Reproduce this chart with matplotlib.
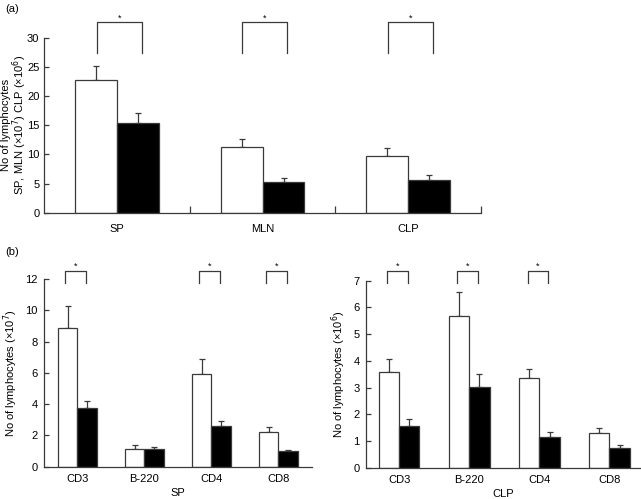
import matplotlib
matplotlib.use("Agg")
import matplotlib.pyplot as plt
import numpy as np

plt.rcParams['font.family'] = ['Liberation Sans', 'DejaVu Sans']
plt.rcParams['font.size'] = 8

# Panel (a)
a_cats = ["SP", "MLN", "CLP"]
a_white = [22.7, 11.2, 9.7]
a_white_err = [2.5, 1.4, 1.4]
a_black = [15.4, 5.2, 5.7]
a_black_err = [1.7, 0.7, 0.8]
a_sig = [True, True, True]

# Panel (b) left: SP
b_cats = ["CD3", "B-220", "CD4", "CD8"]
sp_white = [8.88, 1.15, 5.95, 2.22]
sp_white_err = [1.38, 0.24, 0.92, 0.34]
sp_black = [3.75, 1.14, 2.63, 1.01]
sp_black_err = [0.48, 0.15, 0.30, 0.08]
sp_sig = [True, False, True, True]

# Panel (b) right: CLP
clp_white = [3.59, 5.67, 3.37, 1.29]
clp_white_err = [0.47, 0.90, 0.33, 0.18]
clp_black = [1.57, 3.01, 1.16, 0.75]
clp_black_err = [0.24, 0.49, 0.19, 0.09]
clp_sig = [True, True, True, False]

EC = "#3a3a3a"
W = 0.288

fig = plt.figure(figsize=(6.41, 4.99), dpi=100)


def draw(ax, cats, white, werr, black, berr, sig, ylim, yticks, xlim,
         ylabel, br_lo, br_hi, br_dx=(-0.18, 0.12), xpad=5, ypad=4.5):
    x = np.arange(len(cats))
    ax.bar(x - W / 2, white, W, color="white", edgecolor=EC, linewidth=0.9, zorder=2)
    ax.bar(x + W / 2, black, W, color="black", edgecolor=EC, linewidth=0.9, zorder=2)
    ax.errorbar(x - W / 2, white, yerr=[np.zeros(len(x)), werr], fmt="none",
                ecolor=EC, elinewidth=0.9, capsize=2.5, capthick=0.9, zorder=1)
    ax.errorbar(x + W / 2, black, yerr=[np.zeros(len(x)), berr], fmt="none",
                ecolor=EC, elinewidth=0.9, capsize=2.5, capthick=0.9, zorder=1)
    for xi, s in zip(x, sig):
        if s:
            x0 = xi + br_dx[0]
            x1 = xi + br_dx[1]
            ax.plot([x0, x0, x1, x1], [br_lo, br_hi, br_hi, br_lo], color=EC,
                    linewidth=0.9, clip_on=False)
            ax.text((x0 + x1) / 2, br_hi, "*", ha="center", va="bottom", fontsize=6.5)
    ax.set_xlim(*xlim)
    ax.set_ylim(*ylim)
    ax.set_yticks(yticks)
    for s in ["top", "right"]:
        ax.spines[s].set_visible(False)
    for s in ["left", "bottom"]:
        ax.spines[s].set_color(EC)
        ax.spines[s].set_linewidth(0.9)
    ax.tick_params(axis="y", direction="in", length=3.5, width=0.9, color=EC, pad=ypad,
                   labelsize=8)
    ax.set_xticks(x)
    ax.set_xticklabels(cats, fontsize=8)
    ax.tick_params(axis="x", length=0, pad=xpad)
    ax.set_ylabel(ylabel, fontsize=8, labelpad=4)


# (a)
axa = fig.add_axes([0.0691, 0.5735, 0.681, 0.351])
draw(axa, a_cats, a_white, a_white_err, a_black, a_black_err, a_sig,
     (0, 30), [0, 5, 10, 15, 20, 25, 30], (-0.5, 2.5),
     "No of lymphocytes\nSP, MLN (\u00d710$^7$) CLP (\u00d710$^6$)",
     27.3, 32.6, br_dx=(-0.14, 0.17), xpad=8, ypad=3.5)
axa.set_xticks([0.5, 1.5, 2.5], minor=True)
axa.tick_params(axis="x", which="minor", direction="in", length=5, width=0.9, color=EC)
axa.yaxis.label.set_linespacing(0.95)
axa.yaxis.set_label_coords(-0.036, 0.5)

# (b) left
axl = fig.add_axes([0.0686, 0.0647, 0.4181, 0.3762])
draw(axl, b_cats, sp_white, sp_white_err, sp_black, sp_black_err, sp_sig,
     (0, 12), [0, 2, 4, 6, 8, 10, 12], (-0.5, 3.5),
     "No of lymphocytes (\u00d710$^7$)", 11.75, 12.53)
axl.set_xlabel("SP", fontsize=8, labelpad=3)

# (b) right
axr = fig.add_axes([0.5705, 0.0627, 0.4295, 0.3748])
draw(axr, b_cats, clp_white, clp_white_err, clp_black, clp_black_err, clp_sig,
     (0, 7), [0, 1, 2, 3, 4, 5, 6, 7], (-0.48, 3.45),
     "No of lymphocytes (\u00d710$^6$)", 6.9, 7.37, br_dx=(-0.17, 0.12))
axr.set_xlabel("CLP", fontsize=8, labelpad=3)

fig.text(0.008, 0.992, "(a)", ha="left", va="top", fontsize=8)
fig.text(0.008, 0.505, "(b)", ha="left", va="top", fontsize=8)

fig.savefig("out.png", dpi=100)
